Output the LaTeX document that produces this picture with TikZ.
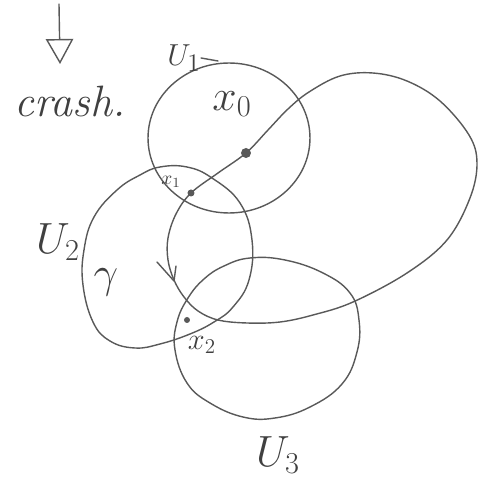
\documentclass[tikz,border=0pt]{standalone}
\usepackage{tikz}
\usetikzlibrary{arrows.meta}

\begin{document}
\begin{tikzpicture}[
    x=0.02cm, y=-0.02cm,
    pencil/.style={draw=black!65, line width=0.8pt, line cap=round, line join=round},
    pt/.style={circle, fill=black!65, inner sep=0pt},
    lbl/.style={text=black!75, inner sep=0pt}
]
\useasboundingbox (0,0) rectangle (485,483);

% Arrow and remark
\coordinate (arrtop) at (59,4);
\coordinate (arrtip) at (60,64);
\draw[pencil, -{Triangle[open, length=5mm, width=5.5mm]}] (arrtop) -- (arrtip);
\node[lbl, font=\fontsize{25}{28}\selectfont\itshape] (crash) at (70,101) {crash.};

% Open sets
\draw[pencil] (229,138) ellipse [x radius=1.62cm, y radius=1.5cm];
\draw[pencil] plot[smooth cycle, tension=0.7] coordinates {(160,167) (187,167) (212,178) (240,203) (252,240) (249,280) (233,307) (214,322) (190,334) (160,344) (135,348) (110,341) (93,322) (83,285) (84,250) (94,217) (117,190) (140,175)};
\draw[pencil] plot[smooth cycle, tension=0.7] coordinates {(250,258) (285,260) (323,273) (350,293) (359,320) (357,352) (342,384) (310,407) (275,418) (243,417) (210,403) (187,383) (175,350) (177,322) (188,298) (204,279) (224,266)};

% Path gamma
\draw[pencil] plot[smooth cycle, tension=0.6] coordinates {(246,153) (218,173) (191,193) (176,214) (168,238) (168,260) (174,280) (184,297) (198,311) (218,320) (247,323) (280,322) (313,315) (353,302) (407,273) (447,240) (470,198) (477,163) (469,135) (440,101) (407,81) (373,73) (340,76) (309,92) (288,109) (268,130)};
\draw[pencil] (157,262) -- (174,281) -- (176,266);

% Points
\node[pt, minimum size=0.2cm] (x0) at (246,153) {};
\node[pt, minimum size=0.14cm] (x1) at (191,193) {};
\node[pt, minimum size=0.12cm] (x2) at (187,320) {};

% Labels
\node[lbl, font=\fontsize{19}{21}\selectfont] (u1) at (184,58) {$U_1$};
\coordinate (u1end) at (218,61);
\draw[pencil] (u1.east) -- (u1end);
\node[lbl, font=\fontsize{25}{28}\selectfont] (u2) at (58,242) {$U_2$};
\node[lbl, font=\fontsize{25}{28}\selectfont] (u3) at (278,455) {$U_3$};
\node[lbl, font=\fontsize{24}{26}\selectfont] (lx0) at (232,104) {$x_0$};
\node[lbl, font=\fontsize{11}{12}\selectfont] (lx1) at (171,182) {$x_1$};
\node[lbl, font=\fontsize{18}{20}\selectfont] (lx2) at (202,345) {$x_2$};
\node[lbl, font=\fontsize{28}{30}\selectfont] (gam) at (106,282) {$\gamma$};

\end{tikzpicture}
\end{document}
